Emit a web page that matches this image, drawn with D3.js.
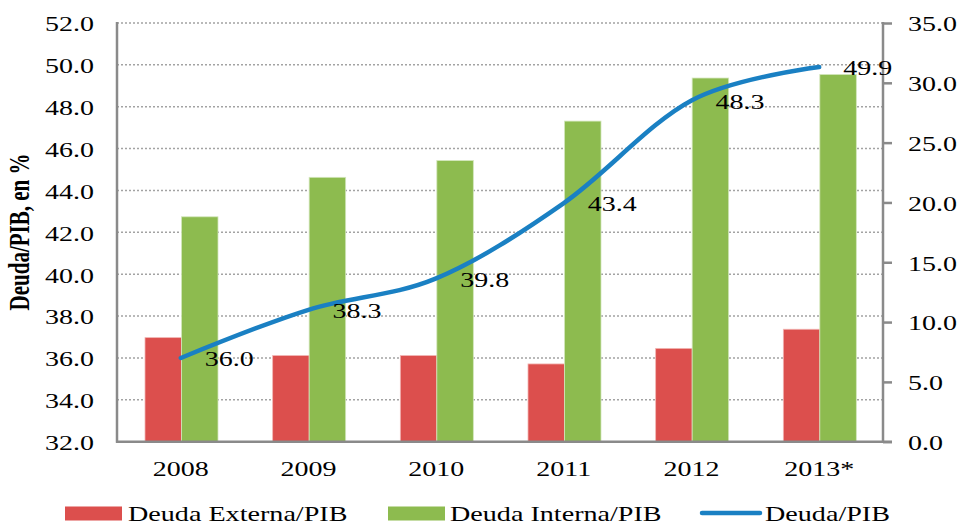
<!DOCTYPE html>
<html>
<head>
<meta charset="utf-8">
<script src="https://cdn.jsdelivr.net/npm/d3@7"></script>
<style>
  html, body { margin: 0; padding: 0; background: #fff; }
  svg text { font-family: "Liberation Serif", "Times New Roman", Tinos, serif !important; }
</style>
</head>
<body>
<svg id="chart" width="962" height="525"></svg>
<script>
// ---- data ----
const years = ["2008", "2009", "2010", "2011", "2012", "2013*"];
const deudaExterna = [8.7, 7.2, 7.2, 6.5, 7.8, 9.4];      // right axis
const deudaInterna = [18.8, 22.1, 23.5, 26.8, 30.4, 30.7]; // right axis
const deudaTotal = [36.0, 38.3, 39.8, 43.4, 48.3, 49.9];   // left axis
const leftTicks = [32, 34, 36, 38, 40, 42, 44, 46, 48, 50, 52];
const rightTicks = [0, 5, 10, 15, 20, 25, 30, 35];
const seriesNames = ["Deuda Externa/PIB", "Deuda Interna/PIB", "Deuda/PIB"];

// ---- layout ----
const L = 117, R = 883, T = 23, B = 441.7;
const SX = 1.4;
const colors = { ext: "#dc4f4d", int: "#8dbb4f", line: "#1a80c3", axis: "#8a8a8a", grid: "#a3a3a3" };

const svg = d3.select("#chart");

const x0 = d3.scaleBand().domain(years).range([L, R]);
const x1 = d3.scaleBand().domain(["ext", "int"]).range([28, 101]);
const yL = d3.scaleLinear().domain([32, 52]).range([B, T]);
const yR = d3.scaleLinear().domain([0, 35]).range([B, T]);

// gridlines
svg.append("g").selectAll("line")
  .data(leftTicks.filter(d => d > 32))
  .join("line")
  .attr("x1", L).attr("x2", R)
  .attr("y1", d => yL(d)).attr("y2", d => yL(d))
  .attr("stroke", colors.grid).attr("stroke-width", 1.5)
  .attr("stroke-dasharray", "2,2");

// bars
const bars = svg.append("g");
years.forEach((yr, i) => {
  const g = bars.append("g").attr("transform", `translate(${x0(yr)},0)`);
  g.append("rect")
    .attr("x", x1("ext")).attr("width", x1.bandwidth())
    .attr("y", yR(deudaExterna[i])).attr("height", yR(0) - yR(deudaExterna[i]))
    .attr("fill", colors.ext).attr("stroke", "#f2b5b3").attr("stroke-width", 0.8);
  g.append("rect")
    .attr("x", x1("int")).attr("width", x1.bandwidth())
    .attr("y", yR(deudaInterna[i])).attr("height", yR(0) - yR(deudaInterna[i]))
    .attr("fill", colors.int).attr("stroke", "#d3e6bc").attr("stroke-width", 0.8);
});

// axes
function styleAxis(g) {
  g.attr("font-family", null);
  g.select(".domain").remove();
  g.selectAll(".tick line").attr("stroke", colors.axis).attr("stroke-width", 2.5);
}

const axL = svg.append("g").attr("transform", `translate(${L},0)`)
  .call(d3.axisLeft(yL).tickValues(leftTicks).tickFormat(d3.format(".1f")).tickSize(0));
styleAxis(axL);
axL.selectAll(".tick text")
  .attr("x", 0).attr("dy", "0.34em")
  .attr("text-anchor", "end")
  .attr("transform", `translate(-23,1) scale(${SX},1)`)
  .style("font-size", "20px").attr("fill", "#000");

const axR = svg.append("g").attr("transform", `translate(${R},0)`)
  .call(d3.axisRight(yR).tickValues(rightTicks).tickFormat(d3.format(".1f")).tickSize(9));
styleAxis(axR);
axR.selectAll(".tick text")
  .attr("x", 0).attr("dy", "0.34em")
  .attr("text-anchor", "start")
  .attr("transform", `translate(25,1) scale(${SX},1)`)
  .style("font-size", "20px").attr("fill", "#000");

const axB = svg.append("g").attr("transform", `translate(0,${B})`)
  .call(d3.axisBottom(x0).tickSize(0));
styleAxis(axB);
axB.selectAll(".tick text")
  .attr("y", 0).attr("dy", "0.34em")
  .attr("text-anchor", "middle")
  .attr("transform", `translate(0,27) scale(${SX},1)`)
  .style("font-size", "20px").attr("fill", "#000");

// axis lines
svg.append("line").attr("x1", L).attr("x2", L).attr("y1", T - 1).attr("y2", B + 1)
  .attr("stroke", colors.axis).attr("stroke-width", 2.5);
svg.append("line").attr("x1", R).attr("x2", R).attr("y1", T - 1).attr("y2", B + 1)
  .attr("stroke", colors.axis).attr("stroke-width", 2.5);
svg.append("line").attr("x1", L - 1).attr("x2", R + 9).attr("y1", B).attr("y2", B)
  .attr("stroke", colors.axis).attr("stroke-width", 2.5);

// line
const px = i => x0(years[i]) + x0.bandwidth() / 2;
const line = d3.line()
  .x((d, i) => px(i))
  .y(d => yL(d))
  .curve(d3.curveCatmullRom.alpha(0));
svg.append("path").datum(deudaTotal)
  .attr("d", line)
  .attr("fill", "none").attr("stroke", colors.line)
  .attr("stroke-width", 4.5).attr("stroke-linecap", "round");

// line labels
svg.append("g").selectAll("text")
  .data(deudaTotal)
  .join("text")
  .attr("transform", (d, i) => `translate(${px(i) + 24},${yL(d) + 1.5}) scale(${SX},1)`)
  .attr("dy", "0.34em")
  .style("font-size", "20px")
  .attr("fill", "#000")
  .text(d => d3.format(".1f")(d));

// y title
svg.append("text")
  .attr("transform", `translate(29,232) scale(${SX},1) rotate(-90)`)
  .attr("text-anchor", "middle")
  .style("font-size", "21px").style("font-weight", "bold")
  .attr("fill", "#000")
  .text("Deuda/PIB, en %");

// legend
const leg = svg.append("g");
leg.append("rect").attr("x", 65).attr("y", 506.5).attr("width", 57).attr("height", 14).attr("fill", colors.ext);
leg.append("rect").attr("x", 388).attr("y", 506.5).attr("width", 57).attr("height", 14).attr("fill", colors.int);
leg.append("line").attr("x1", 702).attr("x2", 760).attr("y1", 513).attr("y2", 513)
  .attr("stroke", colors.line).attr("stroke-width", 4.5).attr("stroke-linecap", "round");
const legPos = [128, 450, 765];
leg.selectAll("text").data(seriesNames).join("text")
  .attr("transform", (d, i) => `translate(${legPos[i]},520.5) scale(1.34,1)`)
  .style("font-size", "21px")
  .attr("fill", "#000")
  .text(d => d);
</script>
</body>
</html>
